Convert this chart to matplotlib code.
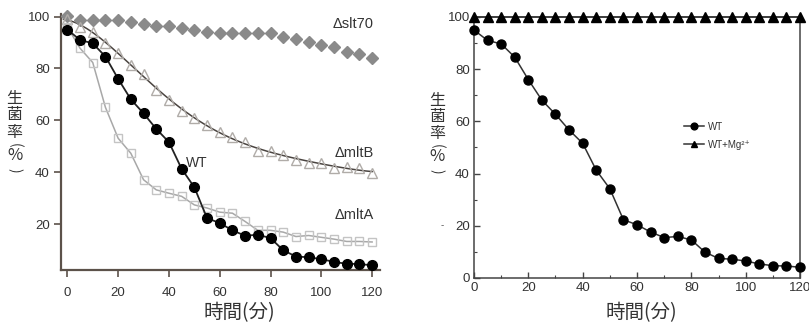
import numpy as np
import matplotlib
matplotlib.use("Agg")
import matplotlib.pyplot as plt
from matplotlib.ticker import MultipleLocator

plt.rcParams['font.family'] = ['Liberation Sans Narrow', 'Liberation Sans', 'DejaVu Sans']

time = list(range(0, 121, 5))
wt = [95, 91, 89.7, 84.6, 76, 68.1, 62.7, 56.7, 51.6, 41.3, 34.2, 22.3, 20.4, 17.6,
      15.5, 15.9, 14.6, 9.9, 7.5, 7.2, 6.5, 5.4, 4.7, 4.6, 4.1]
slt70 = [100.2, 98.7, 98.7, 98.7, 98.7, 97.9, 97.2, 96.5, 96.4, 95.6, 94.9, 94.1, 93.8,
         93.6, 93.6, 93.6, 93.5, 92.3, 91.4, 90.1, 89.1, 88.1, 86.5, 85.6, 84.2]
mltB = [99, 96.1, 94.2, 90, 86, 81.4, 78, 71.8, 67.7, 63.7, 60.8, 58.2, 55.4, 53.4,
        51.8, 48.2, 48.2, 46.7, 44.8, 43.5, 43.5, 41.6, 42.2, 41.6, 39.6]
mltA = [96, 87.8, 82.3, 65, 53.1, 47.3, 37.1, 33.2, 31.9, 30.7, 27.4, 26.2, 24.6, 24.2,
        21, 17.6, 17.6, 16.9, 15.2, 15.6, 14.9, 14.2, 13.3, 13.3, 13.1]
wt_mg = [100] * 25

left_labels = ["\u0394slt70", "\u0394mltB", "\u0394mltA", "WT"]
legend_labels = ["WT", "WT+Mg\u00b2\u207a"]
xlabel = "時間(分)"
ylabel_chars = ["生", "菌", "率", "(", "%", ")"]
cjk = ['Noto Sans CJK JP', 'DejaVu Sans']
txt = '#333333'

W, H = 809, 324
fig = plt.figure(figsize=(W / 100, H / 100), dpi=100)


def stacked_ylabel(xpx, ypx_list):
    for ch, ypx in zip(ylabel_chars, ypx_list):
        if ch in "()":
            fig.text(xpx / W, 1 - ypx / H, ch, ha='center', va='center', fontsize=10,
                     family=cjk, color=txt, rotation=-90, rotation_mode='anchor')
        else:
            fs = 11.5 if ch != "%" else 12
            fig.text(xpx / W, 1 - ypx / H, ch, ha='center', va='center', fontsize=fs,
                     family=cjk, color=txt)


# ---------------- left panel ----------------
axL = fig.add_axes([0.0754, 0.1667, 0.394, 0.790])
spc = '#5c524a'
axL.plot(time, slt70, ls='none', marker='D', ms=6.5, color='#8a8a8a', mec='#8a8a8a', zorder=3, clip_on=False)
coef = np.polyfit(time, mltB, 5)
tt = np.linspace(-1.5, 120, 200)
axL.plot(tt, np.polyval(coef, tt), color='#4a4440', lw=1.1, zorder=2)
axL.plot(time, mltB, ls='none', marker='^', ms=7.5, mfc='none', mec='#b0aca8', mew=1.0, zorder=3, clip_on=False)
axL.plot(time, mltA, color='#a8a8a8', lw=1.1, marker='s', ms=6, mfc='none', mec='#c4c4c4', mew=1.0, zorder=3, clip_on=False)
axL.plot(time, wt, color='#222222', lw=1.3, marker='o', ms=7, mfc='black', mec='black', zorder=4, clip_on=False)

axL.set_xlim(-2.5, 123)
axL.set_ylim(2.3, 101)
axL.set_xticks(range(0, 121, 20))
axL.set_yticks(range(20, 101, 20))
for s in ['top', 'right']:
    axL.spines[s].set_visible(False)
for s in ['left', 'bottom']:
    axL.spines[s].set_color(spc)
    axL.spines[s].set_linewidth(1.6)
axL.tick_params(direction='out', length=5, width=1.2, color=spc, labelsize=9.5, labelcolor=txt, pad=7)
axL.tick_params(axis='y', pad=3)

axL.text(120.5, 97, left_labels[0], ha='right', va='center', fontsize=10.5, color=txt)
axL.text(120.5, 47.5, left_labels[1], ha='right', va='center', fontsize=10.5, color=txt)
axL.text(120.5, 23.5, left_labels[2], ha='right', va='center', fontsize=10.5, color=txt)
axL.text(46.5, 43.5, left_labels[3], ha='left', va='center', fontsize=10, color=txt)

fig.text(239 / W, 1 - 313 / H, xlabel, ha='center', va='center', fontsize=14, family=cjk, color=txt)
ys = [99, 115, 132, 145, 156, 170]
stacked_ylabel(14.5, ys)

# ---------------- right panel ----------------
axR = fig.add_axes([0.5859, 0.142, 0.403, 0.8056])
axR.plot(time, wt, color='#333333', lw=1.1, marker='o', ms=6.5, mfc='black', mec='black', zorder=4, clip_on=False, label=legend_labels[0])
axR.plot(time, wt_mg, color='#333333', lw=1.1, marker='^', ms=6.5, mfc='black', mec='black', zorder=4, clip_on=False, label=legend_labels[1])
axR.set_xlim(0, 120)
axR.set_ylim(0, 100)
axR.set_xticks(range(0, 121, 20))
axR.set_yticks(range(0, 101, 20))
axR.xaxis.set_minor_locator(MultipleLocator(10))
axR.yaxis.set_minor_locator(MultipleLocator(10))
for s in axR.spines.values():
    s.set_color('#444444')
    s.set_linewidth(1.1)
axR.tick_params(which='major', direction='in', length=4, width=1, color='#444444', labelsize=9.5, labelcolor=txt, pad=3)
axR.tick_params(which='minor', direction='in', length=2.5, width=0.8, color='#444444')
leg = axR.legend(loc='center left', bbox_to_anchor=(0.645, 0.545), frameon=False, fontsize=7,
                 handlelength=2.0, handletextpad=0.4, labelspacing=0.8, markerscale=0.75, borderaxespad=0, borderpad=0)
for t in leg.get_texts():
    t.set_color(txt)

fig.text(641 / W, 1 - 313 / H, xlabel, ha='center', va='center', fontsize=14, family=cjk, color=txt)
stacked_ylabel(437, [y + 1 for y in ys])
fig.text(442 / W, 1 - 225 / H, '-', ha='center', va='center', fontsize=7, color='#555555')

fig.savefig('out.png', dpi=100)
